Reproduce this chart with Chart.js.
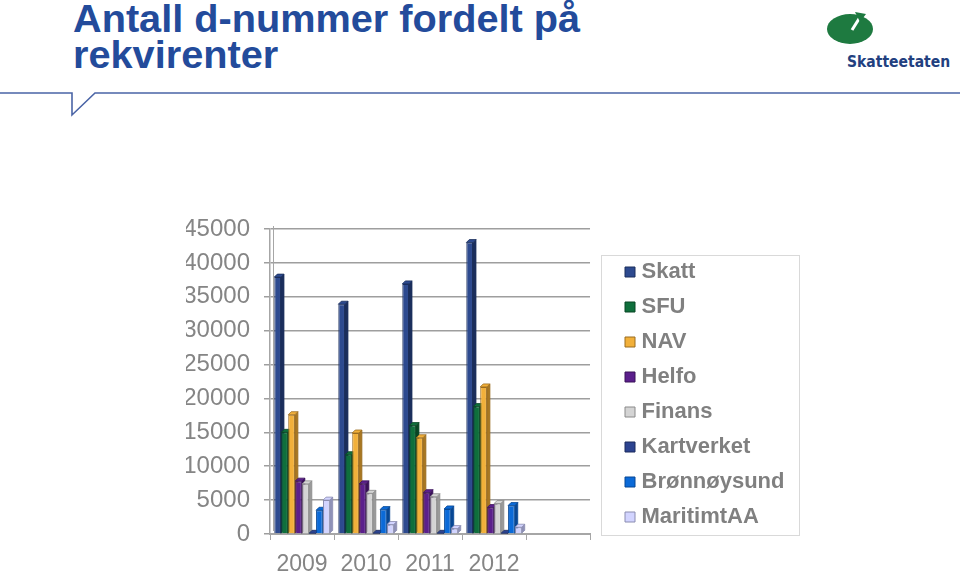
<!DOCTYPE html>
<html>
<head>
<meta charset="utf-8">
<script src="https://cdn.jsdelivr.net/npm/chart.js@4.4.0/dist/chart.umd.min.js"></script>
<style>
  html, body { margin:0; padding:0; background:#fff; width:960px; height:574px; overflow:hidden; }
  #title { position:absolute; left:73px; top:0px; font-family:"Liberation Sans", Arial, sans-serif; font-weight:bold; font-size:39.7px; line-height:36px; color:#234B9B; margin:0; }
  #logoText { position:absolute; left:847px; top:53px; font-family:"DejaVu Sans Condensed","DejaVu Sans",sans-serif; font-weight:bold; font-size:15.5px; color:#22407f; }
  #deco { position:absolute; left:0; top:0; }
  #wrap { position:absolute; left:0; top:0; width:960px; height:574px; }
</style>
</head>
<body>
<svg id="deco" width="960" height="574">
  <polyline points="0,93 72,93 72,115 95,93 960,93" fill="none" stroke="#4a64a6" stroke-width="1.6"/>
  <ellipse cx="850" cy="29" rx="23" ry="15" fill="#1e7a40"/>
  <path d="M852,30 L862,14" stroke="#fff" stroke-width="3"/>
  <path d="M855,12 L866,14 L860,22 Z" fill="#1e7a40"/>
</svg>
<div id="title">Antall d-nummer fordelt på<br>rekvirenter</div>
<div id="logoText">Skatteetaten</div>
<div id="wrap"><canvas id="c" width="960" height="574"></canvas></div>
<script>
const categories = ['2009', '2010', '2011', '2012', ''];
const seriesNames = ['Skatt', 'SFU', 'NAV', 'Helfo', 'Finans', 'Kartverket', 'Brønnøysund', 'MaritimtAA'];
const skatt       = [37900, 33900, 36900, 43000];
const sfu         = [15000, 11700, 16000, 18800];
const nav         = [17600, 14900, 14200, 21700];
const helfo       = [7800, 7400, 6100, 3900];
const finans      = [7400, 6000, 5500, 4500];
const kartverket  = [100, 100, 100, 100];
const bronnoysund = [3500, 3600, 3700, 4200];
const maritimtAA  = [5000, 1400, 800, 1000];
const yTicks = [0, 5000, 10000, 15000, 20000, 25000, 30000, 35000, 40000, 45000];

const values = [skatt, sfu, nav, helfo, finans, kartverket, bronnoysund, maritimtAA];
const fills  = ['#2d4a8f', '#0f6f3c', '#f2b03a', '#5b1f8c', '#d4d4d4', '#2c4390', '#0b6ad8', '#d2d4ff'];
const sides  = ['#1b2e5c', '#094624', '#a87722', '#3a1259', '#9a9a9a', '#1a2a5c', '#074794', '#8f92b8'];
const borders= ['#1b2e5c', '#094624', '#9a6c20', '#3a1259', '#8a8a8a', '#1a2a5c', '#074794', '#8a8cb0'];

const bar3d = {
  id: 'bar3d',
  beforeDatasetsDraw(chart) {
    const ctx = chart.ctx;
    const d = 3;
    ctx.save();
    chart.data.datasets.forEach((ds, i) => {
      const meta = chart.getDatasetMeta(i);
      meta.data.forEach(el => {
        if (el.skip || el.y == null || isNaN(el.y)) return;
        const w = el.width, xl = el.x - w/2, xr = el.x + w/2, top = el.y, base = el.base;
        ctx.fillStyle = sides[i];
        ctx.strokeStyle = borders[i];
        ctx.lineWidth = 0.8;
        ctx.beginPath();
        ctx.moveTo(xr, top); ctx.lineTo(xr + d, top - d); ctx.lineTo(xr + d, base - d); ctx.lineTo(xr, base); ctx.closePath();
        ctx.fill(); ctx.stroke();
        ctx.fillStyle = fills[i];
        ctx.beginPath();
        ctx.moveTo(xl, top); ctx.lineTo(xl + d, top - d); ctx.lineTo(xr + d, top - d); ctx.lineTo(xr, top); ctx.closePath();
        ctx.fill(); ctx.stroke();
      });
    });
    ctx.restore();
  }
};

const legendPlace = {
  id: 'legendPlace',
  afterLayout(chart) {
    const lg = chart.legend;
    if (!lg) return;
    lg.left = 616.5; lg.right = 799; lg.width = 182.5;
    lg.top = 242; lg.bottom = 547; lg.height = 305;
  },
  afterDraw(chart) {
    const ctx = chart.ctx;
    ctx.save();
    ctx.strokeStyle = '#d9d9d9';
    ctx.lineWidth = 1;
    ctx.strokeRect(601.5, 255.5, 198, 280);
    ctx.restore();
  }
};

const sideWall = {
  id: 'sideWall',
  beforeDatasetsDraw(chart) {
    const {ctx, chartArea} = chart;
    ctx.save();
    ctx.strokeStyle = '#a6a6a6';
    ctx.lineWidth = 1;
    ctx.beginPath();
    ctx.moveTo(chartArea.left + 3.5, chartArea.top - 3);
    ctx.lineTo(chartArea.left + 3.5, chartArea.bottom - 3);
    ctx.stroke();
    ctx.restore();
  }
};

new Chart(document.getElementById('c'), {
  type: 'bar',
  data: {
    labels: categories,
    datasets: seriesNames.map((n, i) => ({
      label: n,
      data: values[i],
      backgroundColor: fills[i],
      borderColor: borders[i],
      borderWidth: 1,
      categoryPercentage: 0.87,
      barPercentage: 0.96
    }))
  },
  options: {
    responsive: false,
    animation: false,
    layout: { padding: { top: 229, left: 186, right: 192, bottom: 0 } },
    plugins: {
      legend: {
        position: 'right',
        align: 'center',
        fullSize: false,
        maxWidth: 180,
        labels: {
          usePointStyle: true,
          pointStyle: 'rect',
          boxWidth: 1, boxHeight: 10, padding: 13,
          color: '#808080',
          font: { family: '"Liberation Sans", Arial, sans-serif', size: 22, weight: 'bold' },
          generateLabels(chart) {
            return chart.data.datasets.map((ds, i) => ({
              text: ds.label, fillStyle: fills[i], strokeStyle: borders[i], lineWidth: 1,
              pointStyle: 'rect', datasetIndex: i, fontColor: '#808080'
            }));
          }
        }
      },
      tooltip: { enabled: false }
    },
    scales: {
      x: {
        offset: true,
        afterFit(scale) { scale.height = 40; },
        grid: { offset: true, drawOnChartArea: false, drawTicks: true, tickLength: 6, color: '#a6a6a6', lineWidth: 1 },
        border: { color: '#a6a6a6', width: 2 },
        ticks: { color: '#858585', padding: 13, maxRotation: 0, minRotation: 0, autoSkip: false,
                 font: { family: '"Liberation Sans", Arial, sans-serif', size: 23, lineHeight: 1.0 } }
      },
      y: {
        min: 0, max: 45000,
        afterFit(scale) { scale.width = 84; },
        afterBuildTicks(scale) { scale.ticks = yTicks.map(v => ({ value: v })); },
        grid: { color: '#9e9e9e', lineWidth: 1.5, tickLength: 6, drawTicks: true },
        border: { color: '#a6a6a6', width: 1.5 },
        ticks: { color: '#858585', padding: 14, callback: v => String(v),
                 font: { family: '"Liberation Sans", Arial, sans-serif', size: 24 } }
      }
    }
  },
  plugins: [bar3d, legendPlace, sideWall]
});
</script>
</body>
</html>
